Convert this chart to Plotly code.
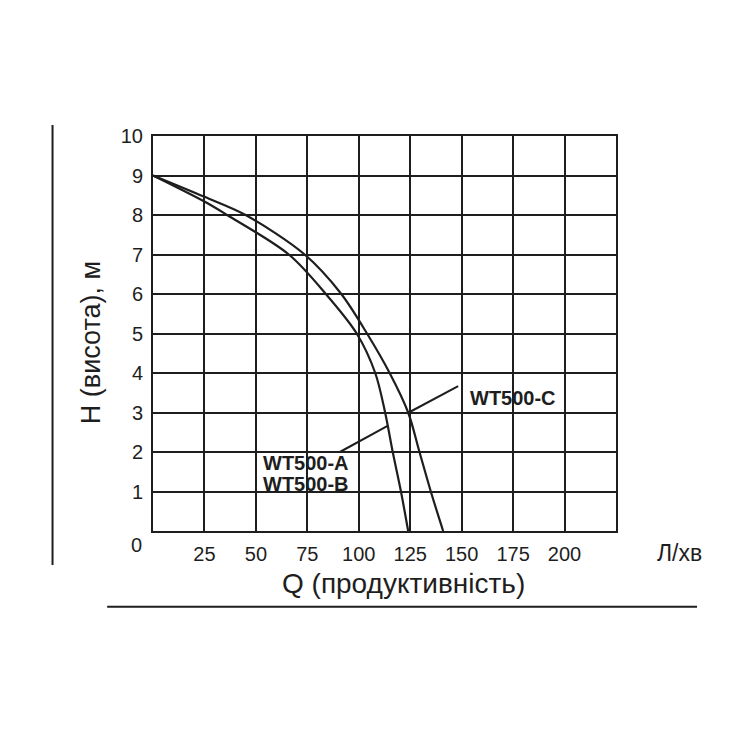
import plotly.graph_objects as go

# Data (Q in л/хв, H in м)
q_c = [0, 25, 45, 73.7, 91.5, 104, 115, 124, 129.5, 135, 141]
h_c = [9, 8.46, 8.0, 7.0, 6.0, 5.0, 4.0, 3.0, 2.0, 1.0, 0.0]

q_ab = [0, 25, 36, 66, 84, 99, 108, 112.8, 116.5, 120.5, 124]
h_ab = [9, 8.34, 8.0, 7.0, 6.0, 5.0, 4.0, 3.0, 2.0, 1.0, 0.0]

x_ticks = [25, 50, 75, 100, 125, 150, 175, 200]
y_ticks = [1, 2, 3, 4, 5, 6, 7, 8, 9, 10]

label_c = "WT500-C"
label_ab = ["WT500-A", "WT500-B"]

ink = "#1e1e1e"
font_family = "Liberation Sans, Arial, sans-serif"

fig = go.Figure()
fig.add_trace(go.Scatter(x=q_c, y=h_c, mode="lines",
                         line=dict(color=ink, width=2.2, shape="spline", smoothing=0.9),
                         showlegend=False, hoverinfo="skip"))
fig.add_trace(go.Scatter(x=q_ab, y=h_ab, mode="lines",
                         line=dict(color=ink, width=2.2, shape="spline", smoothing=0.9),
                         showlegend=False, hoverinfo="skip"))

# leader lines (data coordinates)
fig.add_shape(type="line", x0=124.3, y0=3.0, x1=148.3, y1=3.67, line=dict(color=ink, width=2))
fig.add_shape(type="line", x0=114.0, y0=2.66, x1=90.8, y1=2.0, line=dict(color=ink, width=2))

fig.add_annotation(x=175, y=3.37, text="<b>%s</b>" % label_c, showarrow=False,
                   xanchor="center", yanchor="middle",
                   font=dict(size=20, color=ink, family=font_family))
fig.add_annotation(x=74.4, y=1.72, text="<b>%s</b>" % label_ab[0], showarrow=False,
                   xanchor="center", yanchor="middle",
                   font=dict(size=20, color=ink, family=font_family))
fig.add_annotation(x=74.4, y=1.19, text="<b>%s</b>" % label_ab[1], showarrow=False,
                   xanchor="center", yanchor="middle",
                   font=dict(size=20, color=ink, family=font_family))

# axis titles and extra labels
fig.add_annotation(xref="paper", yref="paper", x=-0.134, y=0.478, text="H (висота), м",
                   textangle=-90, showarrow=False, xanchor="center", yanchor="middle",
                   font=dict(size=27, color=ink, family=font_family))
fig.add_annotation(xref="paper", yref="paper", x=0.542, y=-0.132, text="Q (продуктивність)",
                   showarrow=False, xanchor="center", yanchor="middle",
                   font=dict(size=28, color=ink, family=font_family))
fig.add_annotation(xref="paper", yref="paper", x=1.137, y=-0.055, text="Л/хв",
                   showarrow=False, xanchor="center", yanchor="middle",
                   font=dict(size=23, color=ink, family=font_family))
fig.add_annotation(xref="paper", yref="paper", x=-0.035, y=-0.035, text="0",
                   showarrow=False, xanchor="center", yanchor="middle",
                   font=dict(size=20, color=ink, family=font_family))

# decorative frame lines outside the plot
fig.add_shape(type="line", xref="paper", yref="paper", x0=-0.217, y0=1.028, x1=-0.217, y1=-0.086,
              line=dict(color=ink, width=2))
fig.add_shape(type="line", xref="paper", yref="paper", x0=-0.099, y0=-0.192, x1=1.175, y1=-0.192,
              line=dict(color=ink, width=2))

fig.update_xaxes(range=[0, 225], tickvals=x_ticks, ticktext=[str(v) for v in x_ticks],
                 showgrid=True, gridcolor=ink, gridwidth=2,
                 showline=True, linecolor=ink, linewidth=2, mirror=True,
                 zeroline=False, ticks="", ticklabelstandoff=4,
                 tickfont=dict(size=20, color=ink, family=font_family))
fig.update_yaxes(range=[0, 10], tickvals=y_ticks, ticktext=[str(v) for v in y_ticks],
                 showgrid=True, gridcolor=ink, gridwidth=2,
                 showline=True, linecolor=ink, linewidth=2, mirror=True,
                 zeroline=False, ticks="", ticklabelstandoff=4,
                 tickfont=dict(size=20, color=ink, family=font_family))

fig.update_layout(width=750, height=750,
                  margin=dict(l=153, r=134, t=136, b=219),
                  paper_bgcolor="white", plot_bgcolor="white",
                  font=dict(family=font_family, color=ink))

fig.write_html("out.html")
